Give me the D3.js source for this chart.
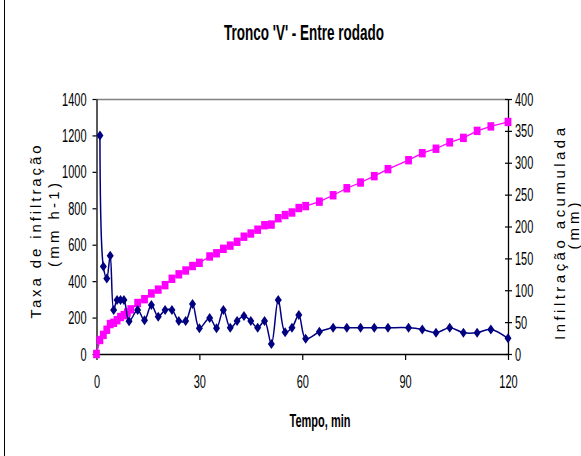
<!DOCTYPE html>
<html>
<head>
<meta charset="utf-8">
<script src="https://cdn.jsdelivr.net/npm/d3@7"></script>
<style>
  html, body { margin: 0; padding: 0; background: #fff; }
  svg { display: block; }
  text { font-family: "Liberation Sans", Arial, sans-serif; }
</style>
</head>
<body>
<svg id="chart" width="581" height="456"></svg>
<script>
// Infiltration rate (left axis) and cumulative infiltration (right axis) over time
const tempoTaxa = [1, 2, 3, 4, 5, 6, 7, 8, 9.5, 12, 14, 16, 18, 20, 22, 24, 26, 28, 30, 33, 35, 37, 39,
  41, 43, 45, 47, 49, 51, 53, 55, 57, 59, 61, 65, 69, 73, 77, 81, 85, 91, 95, 99, 103, 107, 111, 115, 120];
const taxa = [1200, 480, 415, 540, 241, 296, 296, 296, 180, 241, 185, 269, 205, 241, 241, 181, 181, 275,
  142, 198, 142, 241, 144, 181, 208, 181, 144, 181, 55, 296, 120, 144, 214, 84, 122, 144, 144, 144, 144,
  144, 144, 135, 117, 144, 117, 117, 135, 86];

const tempoAcum = [0, 1, 2, 3, 4, 5, 6, 7, 8, 9, 10, 12, 14, 16, 18, 20, 22, 24, 26, 28, 30, 33, 35, 37,
  39, 41, 43, 45, 47, 49, 51, 53, 55, 57, 59, 61, 65, 69, 73, 77, 81, 85, 91, 95, 99, 103, 107, 111, 115, 120];
const acumulada = [0, 22, 30, 38, 47, 49, 53, 58, 61, 65, 70, 80, 86, 95, 101, 108, 118, 125, 131, 138,
  143, 153, 158, 165, 170, 176, 184, 189, 195, 202, 203, 213, 218, 222, 229, 232, 239, 249, 260, 269,
  279, 290, 304, 315, 322, 332, 339, 350, 357, 364];

const ticksTempo = [0, 30, 60, 90, 120];
const ticksTaxa = d3.range(0, 1401, 200);
const ticksAcum = d3.range(0, 401, 50);

const titulo = "Tronco 'V' - Entre rodado";
const tituloX = "Tempo, min";
const tituloY1 = ["Taxa de infiltração", "(mm h-1)"];
const tituloY2 = ["Infiltração acumulada", "(mm)"];

// horizontal text in this chart is drawn tall and narrow
const S = 1.63;

const svg = d3.select("#chart");
const L = 96.5, R = 508, T = 99, B = 354;

const x = d3.scaleLinear().domain([0, 120]).range([L, R]);
const yL = d3.scaleLinear().domain([0, 1400]).range([B, T]);
const yR = d3.scaleLinear().domain([0, 400]).range([B, T]);
const fmt = d3.format("d");

svg.append("rect").attr("width", 581).attr("height", 456).attr("fill", "#fff");

// outer frame edge
svg.append("line").attr("x1", 4.5).attr("x2", 4.5).attr("y1", 0).attr("y2", 456)
  .attr("stroke", "#000").attr("stroke-width", 1);

// plot area top edge
svg.append("line").attr("x1", L).attr("x2", R).attr("y1", T + 0.5).attr("y2", T + 0.5)
  .attr("stroke", "#808080").attr("stroke-width", 1.5);

function styleAxis(g) {
  g.select(".domain").attr("stroke", "#000").attr("stroke-width", 1.3);
  g.selectAll(".tick line").attr("stroke", "#000").attr("stroke-width", 1.2);
  g.selectAll(".tick text").attr("fill", "#000").attr("font-size", 11)
    .attr("font-family", "'Liberation Sans', Arial, sans-serif");
}

// left axis
const gL = svg.append("g").attr("transform", `translate(${L},0)`)
  .call(d3.axisLeft(yL).tickValues(ticksTaxa).tickFormat(fmt).tickSize(4).tickSizeOuter(0));
styleAxis(gL);
gL.selectAll(".tick text").attr("x", -10).attr("dy", "0.34em").attr("transform", `scale(1,${S})`);

// right axis
const gR = svg.append("g").attr("transform", `translate(${R},0)`)
  .call(d3.axisRight(yR).tickValues(ticksAcum).tickFormat(fmt).tickSize(4).tickSizeOuter(0));
styleAxis(gR);
gR.selectAll(".tick line").attr("x1", -3).attr("x2", 4);
gR.selectAll(".tick text").attr("x", 7).attr("dy", "0.34em").attr("transform", `scale(1,${S})`);

// bottom axis
const gB = svg.append("g").attr("transform", `translate(0,${B})`)
  .call(d3.axisBottom(x).tickValues(ticksTempo).tickFormat(fmt).tickSize(6).tickSizeOuter(0));
styleAxis(gB);
gB.selectAll(".tick text").attr("y", 34 / S).attr("dy", 0).attr("transform", `scale(1,${S})`);

// cumulative infiltration: magenta squares, straight segments
svg.append("path")
  .datum(tempoAcum.map((t, i) => [t, acumulada[i]]))
  .attr("fill", "none").attr("stroke", "#FF00FF").attr("stroke-width", 1.3)
  .attr("d", d3.line().x(d => x(d[0])).y(d => yR(d[1])));
svg.append("g").selectAll("rect")
  .data(tempoAcum.map((t, i) => [t, acumulada[i]]))
  .join("rect")
  .attr("x", d => x(d[0]) - 3.4).attr("y", d => yR(d[1]) - 4.2)
  .attr("width", 6.8).attr("height", 8.4).attr("fill", "#FF00FF");

// infiltration rate: navy diamonds, smoothed line
svg.append("path")
  .datum(tempoTaxa.map((t, i) => [t, taxa[i]]))
  .attr("fill", "none").attr("stroke", "#000080").attr("stroke-width", 1.5)
  .attr("d", d3.line().curve(d3.curveCatmullRom.alpha(0.5)).x(d => x(d[0])).y(d => yL(d[1])));
svg.append("g").selectAll("path")
  .data(tempoTaxa.map((t, i) => [t, taxa[i]]))
  .join("path")
  .attr("transform", d => `translate(${x(d[0])},${yL(d[1])})`)
  .attr("d", "M0,-5L3.5,0L0,5L-3.5,0Z")
  .attr("fill", "#000080");

// horizontal titles
function tallText(px, py, str, size, weight) {
  svg.append("g").attr("transform", `translate(${px},${py}) scale(1,${S})`)
    .append("text").attr("text-anchor", "middle").attr("font-size", size)
    .attr("font-weight", weight).attr("fill", "#000").text(str);
}
tallText(304, 40, titulo, 13.5, "bold");
tallText(320, 427, tituloX, 11, "bold");

// vertical axis titles, letters spread along the axis
function sideText(px, py, str, size, len) {
  svg.append("text").attr("transform", `translate(${px},${py}) rotate(-90)`)
    .attr("text-anchor", "middle").attr("font-size", size).attr("fill", "#000")
    .attr("textLength", len).attr("lengthAdjust", "spacing").text(str);
}
sideText(41, 232, tituloY1[0], 15, 173);
sideText(59, 225, tituloY1[1], 15, 84);
sideText(565, 234, tituloY2[0], 15, 212);
sideText(579, 226, tituloY2[1], 15, 47);
</script>
</body>
</html>
